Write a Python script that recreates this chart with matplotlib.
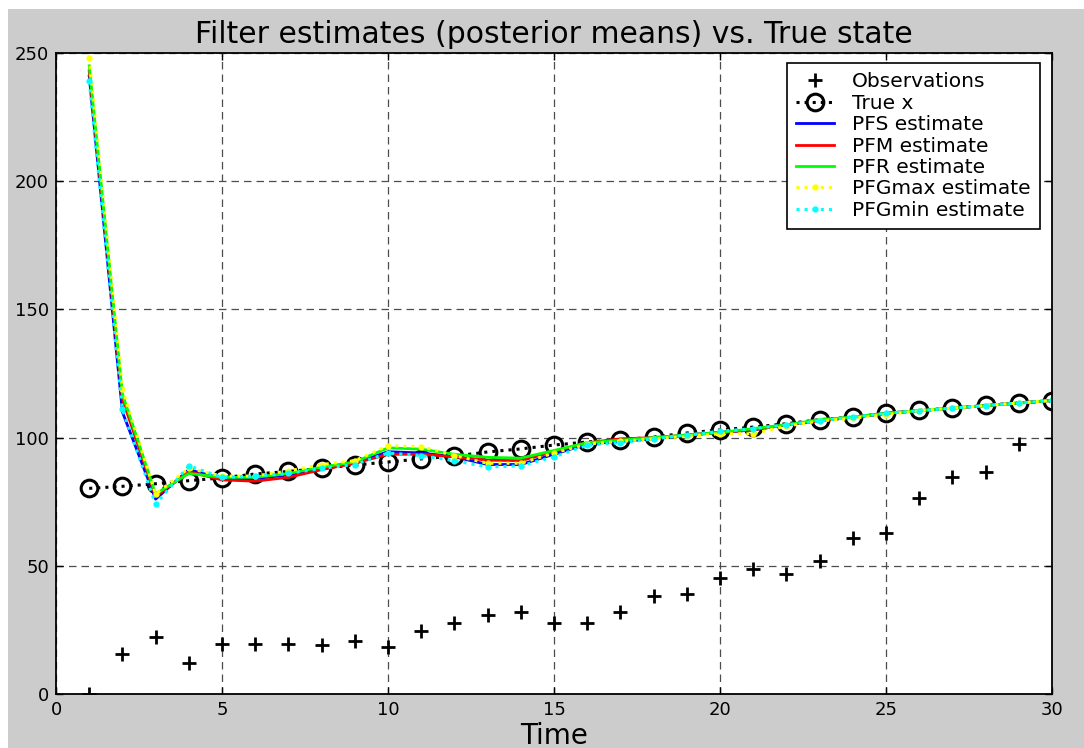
import numpy as np
import matplotlib
matplotlib.use('Agg')
import matplotlib.pyplot as plt
from matplotlib.patches import Rectangle

# data
t = np.arange(1, 31)
t_obs = np.arange(1, 30)
obs = [0, 15.6, 22.2, 12, 19.5, 19.5, 19.5, 19, 20.5, 18.3,
       24.5, 27.7, 30.8, 32, 27.7, 27.7, 32, 38.2, 39, 45.2,
       48.7, 46.8, 51.9, 60.8, 62.8, 76.4, 84.6, 86.6, 97.5]
true_x = [80.2, 81, 82, 83.2, 84.3, 85.8, 86.8, 88, 89.3, 90.5,
          91.7, 92.8, 94.4, 95.6, 97.1, 98.3, 99.1, 100.2, 101.8, 103,
          104.1, 105.4, 107, 108, 109.4, 110.6, 111.5, 112.6, 113.5, 114.3]
pfs = [241, 110, 76, 87.5, 84, 84, 85.5, 88, 90, 94.5,
       94, 92.5, 89.5, 89.5, 93.5, 97.5, 98.5, 99.5, 101, 102,
       103, 105, 106.5, 108, 109.5, 110.5, 111.5, 112.5, 113.5, 114.5]
pfm = [243, 115, 77, 86.7, 83.5, 83, 84.5, 87.5, 90, 93.5,
       93.5, 92.5, 91.2, 91, 94.5, 98, 99.5, 100, 101, 102,
       103, 105, 106.5, 108, 109.5, 110.5, 111.5, 112.5, 113.5, 114.5]
pfr = [245, 117, 78, 86, 84.5, 84.5, 86, 88.5, 90.5, 96,
       95.5, 93.5, 92.3, 92, 95, 98, 99, 100, 101, 102,
       103.5, 105, 107, 108, 109.5, 110.5, 111.5, 112.5, 113.5, 114.5]
pfgmax = [248, 119, 78, 88, 85, 85, 87, 89.5, 91, 96.8,
          96.5, 93, 90, 90, 94, 97.5, 98.5, 99.5, 100.5, 101.5,
          101.5, 104.5, 106.5, 107.5, 109, 110.5, 111.5, 112.5, 113.5, 114.5]
pfgmin = [239, 111, 74, 89, 84.5, 85, 86, 88, 89.5, 94,
          93, 91, 88.5, 89, 92.5, 97, 98, 99.5, 101, 102.5,
          103.5, 105, 106.5, 108, 109.5, 110.5, 111.5, 112.5, 113.5, 114.5]

plt.rcParams['font.family'] = 'DejaVu Sans'

W, H = 1084, 748
fig = plt.figure(figsize=(W / 100, H / 100), dpi=100, facecolor='white')
# MATLAB grey figure background (thin white strip top/left like the screenshot)
fig.patches.append(Rectangle((8 / W, 0), 1, 1 - 9 / H, transform=fig.transFigure,
                             facecolor='#cccccc', edgecolor='none', zorder=-10))

ax = fig.add_axes([56 / W, 1 - 694 / H, (1052 - 56) / W, (694 - 53) / H])
ax.set_facecolor('white')

ax.plot(t_obs, obs, '+', color='black', ms=10, mew=2, label='Observations')
ax.plot(t, true_x, ':o', color='black', lw=2.2, ms=12, mew=2.2,
        mfc='none', label='True x')
ax.plot(t, pfs, '-', color='#0000ff', lw=2, label='PFS estimate')
ax.plot(t, pfm, '-', color='#ff0000', lw=2, label='PFM estimate')
ax.plot(t, pfr, '-', color='#00ff00', lw=2, label='PFR estimate')
ax.plot(t, pfgmax, ':.', color='#ffff00', lw=2.2, ms=7, label='PFGmax estimate')
ax.plot(t, pfgmin, ':.', color='#00ffff', lw=2.2, ms=7, label='PFGmin estimate')

ax.set_xlim(0, 30)
ax.set_ylim(0, 250)
ax.set_xticks(range(0, 31, 5))
ax.set_yticks(range(0, 251, 50))
ax.tick_params(direction='in', length=5, width=1, labelsize=13,
               top=True, right=True, pad=5)
ax.grid(True, color='0.3', linestyle=(0, (6, 4)), linewidth=0.9)
ax.set_axisbelow(True)
for s in ax.spines.values():
    s.set_linewidth(1.3)

ax.set_title('Filter estimates (posterior means) vs. True state',
             fontsize=21.5, pad=7)
ax.set_xlabel('Time', fontsize=20, labelpad=2)

leg = ax.legend(loc='upper right', bbox_to_anchor=(0.988, 0.984),
                borderaxespad=0, fontsize=14.5, fancybox=False,
                framealpha=1, edgecolor='black', handlelength=1.9,
                handletextpad=0.9, labelspacing=0.12, borderpad=0.45)
leg.get_frame().set_linewidth(1.2)

fig.savefig('out.png', dpi=100, facecolor=fig.get_facecolor())
